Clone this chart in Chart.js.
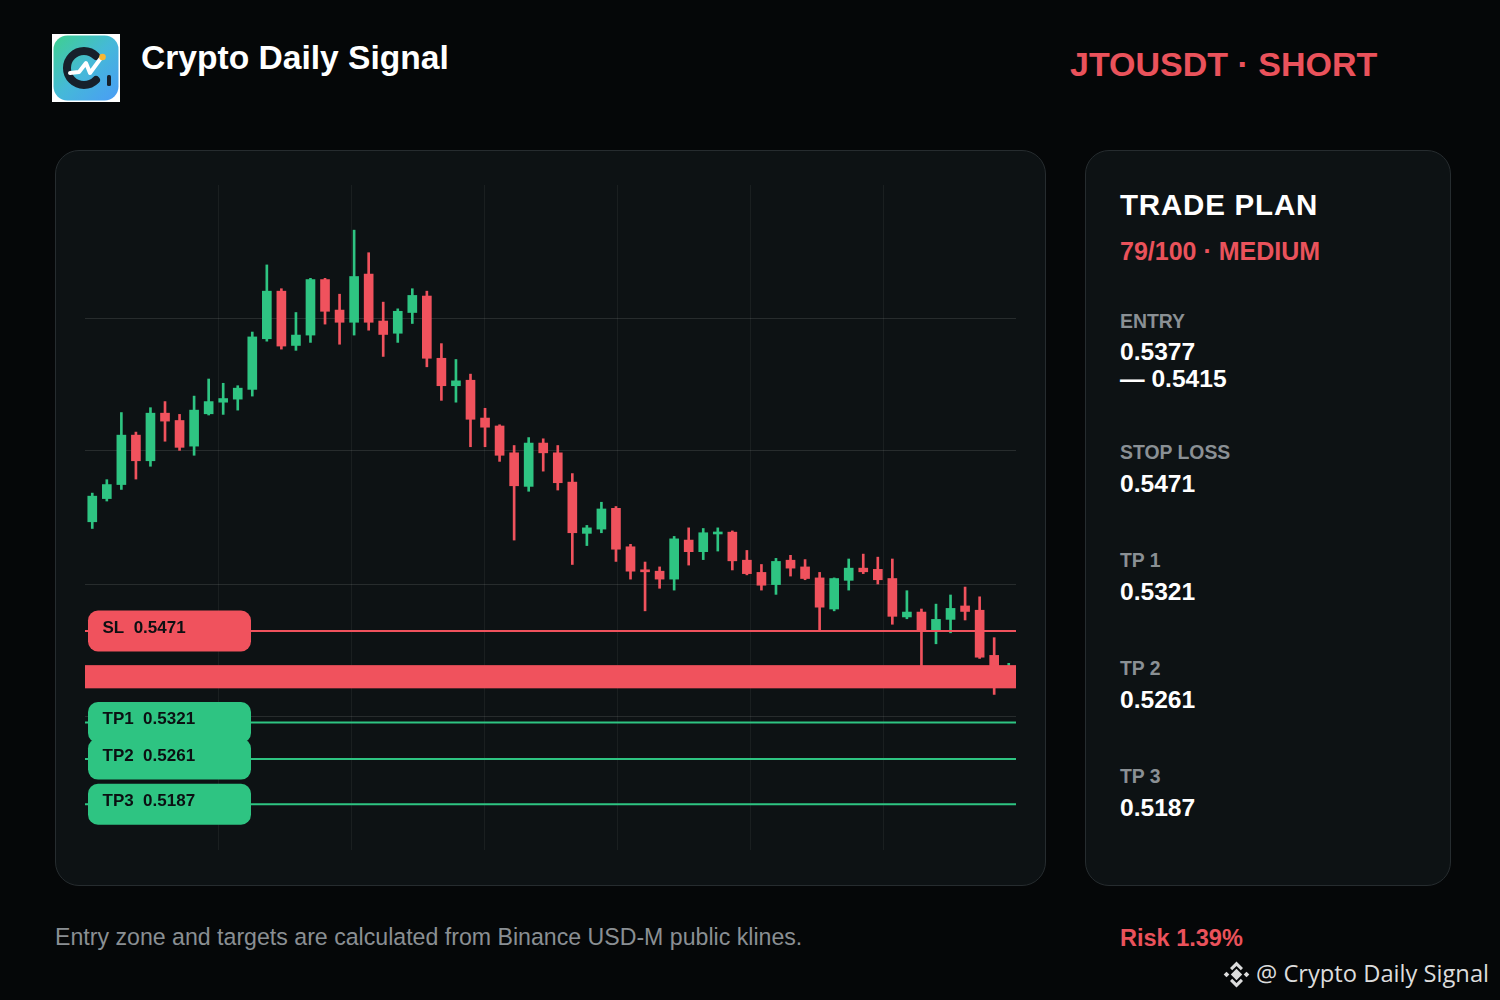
<!DOCTYPE html>
<html>
<head>
<meta charset="utf-8">
<script src="https://cdn.jsdelivr.net/npm/chart.js@4.4.1/dist/chart.umd.min.js"></script>
<style>
  html, body { margin:0; padding:0; background:#050708; width:1500px; height:1000px; overflow:hidden; }
  body { position:relative; font-family:"Liberation Sans", Arial, sans-serif; }
  .t { position:absolute; white-space:pre; line-height:1; }
  .panel { position:absolute; background:#0d1214; border:1.5px solid #262c2f; border-radius:24px; box-sizing:border-box; }
  #c { position:absolute; left:0; top:0; }
</style>
</head>
<body>
<div class="panel" style="left:55px;top:150px;width:991px;height:736px;"></div>
<div class="panel" style="left:1085px;top:150px;width:366px;height:736px;"></div>

<svg style="position:absolute;left:52px;top:34px" width="68" height="68" viewBox="0 0 68 68">
  <defs>
    <linearGradient id="lg" x1="0" y1="0" x2="1" y2="1">
      <stop offset="0" stop-color="#3fd08f"/>
      <stop offset="0.5" stop-color="#45b9d8"/>
      <stop offset="1" stop-color="#4a9cf6"/>
    </linearGradient>
  </defs>
  <rect x="0" y="0" width="68" height="68" fill="#ffffff"/>
  <rect x="1.5" y="1.5" width="65" height="65" rx="14" fill="url(#lg)"/>
  <path d="M44 22 A17 17 0 1 0 44 46" fill="none" stroke="#17202b" stroke-width="8" stroke-linecap="round"/>
  <polyline points="18,39 27,38 34,29 38,39 49,24" fill="none" stroke="#ffffff" stroke-width="4" stroke-linejoin="round" stroke-linecap="round"/>
  <circle cx="50.5" cy="23" r="3.3" fill="#f7b733"/>
  <rect x="55" y="41" width="4" height="11" rx="1.5" fill="#17202b"/>
</svg>

<div class="t" style="left:141px;top:40.8px;font-size:33.6px;font-weight:bold;color:#ffffff;">Crypto Daily Signal</div>
<div class="t" style="left:1070px;top:47px;font-size:34px;font-weight:bold;color:#ea525b;">JTOUSDT · SHORT</div>

<div class="t" style="left:1120px;top:189.5px;font-size:29.5px;font-weight:bold;color:#ffffff;letter-spacing:0.8px;">TRADE PLAN</div>
<div class="t" style="left:1120px;top:239px;font-size:25px;font-weight:bold;color:#ea525b;">79/100 · MEDIUM</div>

<div class="t" style="left:1120px;top:312px;font-size:19.4px;font-weight:bold;color:#8a9094;">ENTRY</div>
<div class="t" style="left:1120px;top:340px;font-size:24.6px;font-weight:bold;color:#ffffff;">0.5377</div>
<div class="t" style="left:1120px;top:367px;font-size:24.6px;font-weight:bold;color:#ffffff;">— 0.5415</div>

<div class="t" style="left:1120px;top:443px;font-size:19.4px;font-weight:bold;color:#8a9094;">STOP LOSS</div>
<div class="t" style="left:1120px;top:472px;font-size:24.6px;font-weight:bold;color:#ffffff;">0.5471</div>

<div class="t" style="left:1120px;top:551px;font-size:19.4px;font-weight:bold;color:#8a9094;">TP 1</div>
<div class="t" style="left:1120px;top:580px;font-size:24.6px;font-weight:bold;color:#ffffff;">0.5321</div>

<div class="t" style="left:1120px;top:659px;font-size:19.4px;font-weight:bold;color:#8a9094;">TP 2</div>
<div class="t" style="left:1120px;top:688px;font-size:24.6px;font-weight:bold;color:#ffffff;">0.5261</div>

<div class="t" style="left:1120px;top:767px;font-size:19.4px;font-weight:bold;color:#8a9094;">TP 3</div>
<div class="t" style="left:1120px;top:796px;font-size:24.6px;font-weight:bold;color:#ffffff;">0.5187</div>

<div class="t" style="left:55px;top:926.4px;font-size:23.15px;color:#8a8f93;">Entry zone and targets are calculated from Binance USD-M public klines.</div>
<div class="t" style="left:1120px;top:926.8px;font-size:23.5px;font-weight:bold;color:#ea525b;">Risk 1.39%</div>

<svg style="position:absolute;left:1223px;top:961px" width="27" height="27" viewBox="0 0 27 27">
  <g fill="#dcdcdc">
    <rect x="9.5" y="9.5" width="8" height="8" transform="rotate(45 13.5 13.5)"/>
    <rect x="1.5" y="11.5" width="4" height="4" transform="rotate(45 3.5 13.5)"/>
    <rect x="21.5" y="11.5" width="4" height="4" transform="rotate(45 23.5 13.5)"/>
    <path d="M13.5 0.5 L20 7 L17.8 9.2 L13.5 4.9 L9.2 9.2 L7 7 Z"/>
    <path d="M13.5 26.5 L20 20 L17.8 17.8 L13.5 22.1 L9.2 17.8 L7 20 Z"/>
  </g>
</svg>
<div class="t" style="left:1256px;top:961.5px;font-size:23.7px;font-family:'Open Sans','Noto Sans',sans-serif;color:#dcdcdc;">@ Crypto Daily Signal</div>

<canvas id="c" width="1500" height="1000"></canvas>

<script>
// ---- data ----
const candleLabels = Array.from({length: 64}, (_, i) => String(i + 1));
const opens  = [0.5650,0.5688,0.5711,0.5792,0.5750,0.5828,0.5816,0.5774,0.5827,0.5846,0.5851,0.5867,0.5950,0.6028,0.5939,0.5956,
                0.6047,0.5997,0.5977,0.6056,0.5979,0.5959,0.5993,0.6020,0.5918,0.5873,0.5882,0.5820,0.5807,0.5763,0.5708,0.5779,
                0.5763,0.5715,0.5631,0.5638,0.5672,0.5609,0.5571,0.5569,0.5556,0.5620,0.5601,0.5630,0.5633,0.5587,0.5567,0.5547,
                0.5587,0.5576,0.5558,0.5507,0.5554,0.5574,0.5572,0.5557,0.5494,0.5502,0.5472,0.5490,0.5512,0.5505,0.5431,0.5400];
const highs  = [0.5697,0.5719,0.5829,0.5797,0.5837,0.5847,0.5826,0.5856,0.5884,0.5877,0.5873,0.5961,0.6071,0.6032,0.5993,0.6049,
                0.6049,0.6023,0.6128,0.6091,0.6010,0.5999,0.6032,0.6028,0.5942,0.5916,0.5892,0.5836,0.5809,0.5775,0.5788,0.5786,
                0.5775,0.5729,0.5644,0.5682,0.5675,0.5613,0.5584,0.5576,0.5626,0.5640,0.5639,0.5640,0.5635,0.5603,0.5580,0.5590,
                0.5595,0.5588,0.5567,0.5558,0.5589,0.5597,0.5592,0.5589,0.5537,0.5507,0.5515,0.5530,0.5543,0.5527,0.5460,0.5418];
const lows   = [0.5639,0.5684,0.5703,0.5720,0.5741,0.5782,0.5767,0.5759,0.5825,0.5826,0.5833,0.5856,0.5946,0.5933,0.5931,0.5944,
                0.5974,0.5941,0.5956,0.5964,0.5921,0.5944,0.5975,0.5904,0.5849,0.5846,0.5773,0.5773,0.5749,0.5620,0.5700,0.5733,
                0.5702,0.5580,0.5611,0.5632,0.5585,0.5556,0.5504,0.5541,0.5538,0.5579,0.5588,0.5602,0.5571,0.5563,0.5538,0.5531,
                0.5561,0.5555,0.5471,0.5504,0.5538,0.5565,0.5548,0.5482,0.5491,0.5412,0.5450,0.5468,0.5489,0.5426,0.5367,0.5390];
const closes = [0.5692,0.5711,0.5792,0.5750,0.5828,0.5815,0.5772,0.5833,0.5847,0.5852,0.5869,0.5953,0.6028,0.5938,0.5956,0.6047,
                0.5995,0.5977,0.6052,0.5977,0.5957,0.5995,0.6021,0.5918,0.5873,0.5881,0.5818,0.5805,0.5759,0.5709,0.5779,0.5763,
                0.5714,0.5632,0.5640,0.5671,0.5605,0.5569,0.5568,0.5556,0.5622,0.5601,0.5632,0.5633,0.5586,0.5565,0.5546,0.5585,
                0.5574,0.5557,0.5510,0.5557,0.5574,0.5568,0.5555,0.5495,0.5502,0.5471,0.5490,0.5508,0.5503,0.5428,0.5398,0.5408];

const levelNames  = ['SL', 'TP1', 'TP2', 'TP3'];
const levelValues = [0.5471, 0.5321, 0.5261, 0.5187];
const entryLow  = 0.5377;
const entryHigh = 0.5415;
const yMin = 0.5112, yMax = 0.6202;
const yDivisions = 5;   // horizontal grid cells
const xDivisions = 7;   // vertical grid cells

// ---- styles ----
const UP = '#2ec482';
const DOWN = '#f0525d';
const candleColor = (i) => closes[i] >= opens[i] ? UP : DOWN;

const levelPlugin = {
  id: 'levels',
  afterDatasetsDraw(chart) {
    const {ctx, chartArea: a, scales: {y}} = chart;
    ctx.save();
    const bt = y.getPixelForValue(entryHigh), bb = y.getPixelForValue(entryLow);
    ctx.fillStyle = DOWN;
    ctx.fillRect(a.left, bt, a.right - a.left, bb - bt);
    levelNames.forEach((n, i) => {
      const py = y.getPixelForValue(levelValues[i]);
      ctx.strokeStyle = n === 'SL' ? DOWN : UP;
      ctx.lineWidth = 2;
      ctx.beginPath(); ctx.moveTo(a.left, py); ctx.lineTo(a.right, py); ctx.stroke();
    });
    levelNames.forEach((n, i) => {
      const py = y.getPixelForValue(levelValues[i]);
      const bx = a.left + 3, bw = 163, bh = 41, r = 10;
      const by = py - bh / 2;
      ctx.fillStyle = n === 'SL' ? DOWN : UP;
      ctx.beginPath();
      ctx.moveTo(bx + r, by);
      ctx.arcTo(bx + bw, by, bx + bw, by + bh, r);
      ctx.arcTo(bx + bw, by + bh, bx, by + bh, r);
      ctx.arcTo(bx, by + bh, bx, by, r);
      ctx.arcTo(bx, by, bx + bw, by, r);
      ctx.closePath();
      ctx.fill();
      ctx.fillStyle = '#0b1012';
      ctx.font = 'bold 17px "Liberation Sans", Arial, sans-serif';
      ctx.textBaseline = 'alphabetic';
      ctx.textAlign = 'left';
      ctx.fillText(n + '  ' + levelValues[i].toFixed(4), a.left + 17.5, py + 2);
    });
    ctx.restore();
  }
};

const evenTicks = (n) => (scale) => {
  const lo = scale.min, hi = scale.max;
  scale.ticks = Array.from({length: n + 1}, (_, k) => ({ value: lo + (hi - lo) * k / n }));
};
const innerOnly = (n, col) => (c) => (c.index === 0 || c.index === n) ? 'rgba(0,0,0,0)' : col;

new Chart(document.getElementById('c'), {
  type: 'bar',
  data: {
    labels: candleLabels,
    datasets: [
      {
        label: 'body',
        data: opens.map((o, i) => [o, closes[i]]),
        backgroundColor: (c) => candleColor(c.dataIndex),
        barThickness: 9,
        minBarLength: 2,
        grouped: false,
        borderWidth: 0
      },
      {
        label: 'wick',
        data: lows.map((l, i) => [l, highs[i]]),
        backgroundColor: (c) => candleColor(c.dataIndex),
        barThickness: 2,
        grouped: false,
        borderWidth: 0
      }
    ]
  },
  options: {
    responsive: false,
    animation: false,
    events: [],
    layout: { padding: { left: 85, right: 484, top: 185, bottom: 150 } },
    plugins: { legend: { display: false }, tooltip: { enabled: false } },
    scales: {
      x: {
        type: 'category',
        offset: true,
        grid: { display: false, drawTicks: false, tickLength: 0 },
        ticks: { display: false },
        border: { display: false }
      },
      x2: {
        type: 'linear',
        position: 'bottom',
        offset: false,
        min: 0, max: xDivisions,
        afterBuildTicks: evenTicks(xDivisions),
        ticks: { display: false },
        grid: { offset: false, drawTicks: false, tickLength: 0, lineWidth: 1, color: innerOnly(xDivisions, 'rgba(255,255,255,0.055)') },
        border: { display: false }
      },
      y: {
        type: 'linear',
        min: yMin, max: yMax,
        afterBuildTicks: evenTicks(yDivisions),
        ticks: { display: false },
        grid: { drawTicks: false, tickLength: 0, lineWidth: 1, color: innerOnly(yDivisions, 'rgba(255,255,255,0.11)') },
        border: { display: false }
      }
    }
  },
  plugins: [levelPlugin]
});
</script>
</body>
</html>
